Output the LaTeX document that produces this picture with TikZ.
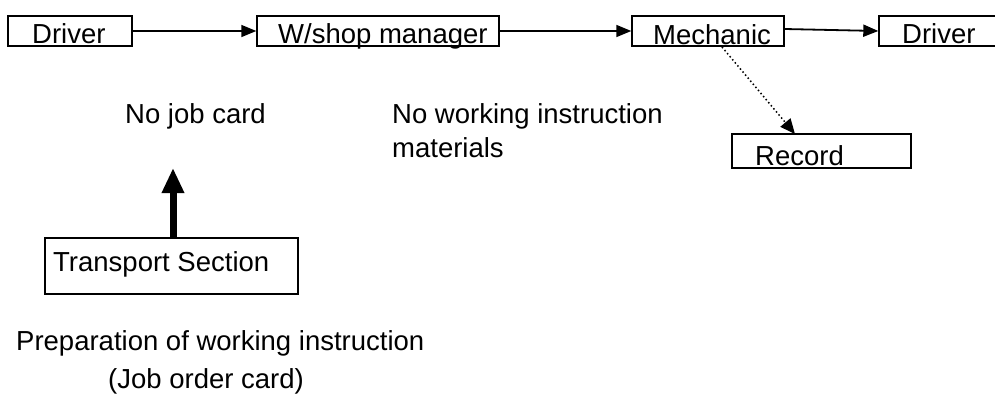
\documentclass[tikz,border=0pt]{standalone}
\usepackage{fontspec}
\setmainfont{Liberation Sans}
\usetikzlibrary{arrows.meta}
\begin{document}
\begin{tikzpicture}[x=1pt,y=-1pt,
  box/.style={draw, line width=1.4pt, inner sep=0pt},
  txt/.style={inner sep=0pt, anchor=base west, font=\fontsize{27.5}{32}\selectfont},
  flow/.style={line width=1.5pt, -{Triangle[length=15pt,width=12pt]}},
  dotflow/.style={line width=1.5pt, dash pattern=on 1.5pt off 2.5pt, -{Triangle[length=15pt,width=13pt]}},
  thick arrow/.style={line width=7pt, -{Triangle[length=25pt,width=21pt]}}]
\useasboundingbox (0,0) rectangle (995,394);
% boxes
\node[box, minimum width=124pt, minimum height=30pt] (d1) at (70,31) {};
\node[box, minimum width=242pt, minimum height=30pt] (ws) at (378,31) {};
\node[box, minimum width=152pt, minimum height=30pt] (me) at (708,31) {};
\node[box, minimum width=120pt, minimum height=30pt] (d2) at (939,31) {};
\node[box, minimum width=179pt, minimum height=34pt] (re) at (821.5,151) {};
\node[box, minimum width=253pt, minimum height=56pt] (ts) at (171.5,266) {};
% box texts
\node[txt] (d1t) at (32,43) {Driver};
\node[txt] (wst) at (278,43) {W/shop manager};
\node[txt] (met) at (653,44) {Mechanic};
\node[txt] (d2t) at (902,43) {Driver};
\node[txt] (ret) at (755,165) {Record};
\node[txt] (tst) at (53,271) {Transport Section};
% free texts
\node[txt] (nj) at (125,123) {No job card};
\node[txt] (nw1) at (392,123) {No working instruction};
\node[txt] (nw2) at (392,157) {materials};
\node[txt] (pr1) at (16,350) {Preparation of working instruction};
\node[txt] (pr2) at (108,388) {(Job order card)};
% connectors
\draw[flow] (d1.east) -- (ws.west);
\draw[flow] (ws.east) -- (me.west);
\draw[flow, line width=1.8pt] ([yshift=2pt]me.east) -- (d2.west);
\coordinate (mb) at (722,47);
\coordinate (rt) at (795,134);
\draw[dotflow] (mb) -- (rt);
\coordinate (tsTop) at (173,238);
\coordinate (tip) at (173,168);
\draw[thick arrow] (tsTop) -- (tip);
\end{tikzpicture}
\end{document}
